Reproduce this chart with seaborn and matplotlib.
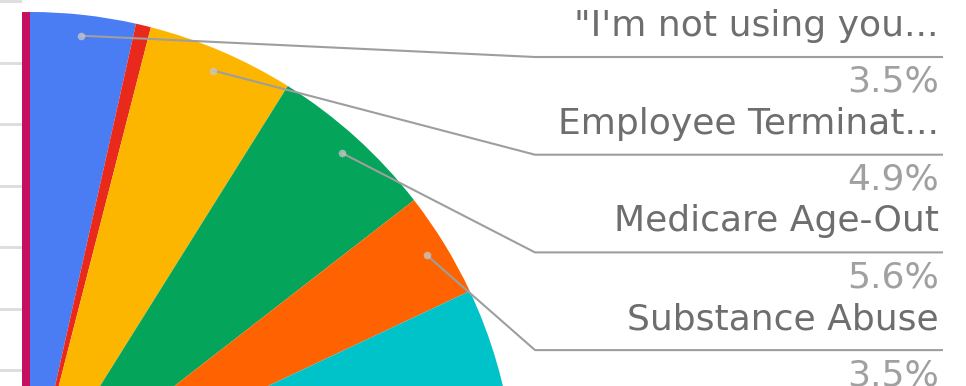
import numpy as np
import matplotlib
matplotlib.use("Agg")
import matplotlib.pyplot as plt
import seaborn as sns

# ---- data (percent of whole pie; slices beyond the visible crop are estimates) ----
categories = ['"I\'m not using you...', '', 'Employee Terminat...', 'Medicare Age-Out',
              'Substance Abuse', '', '', '', '', '']
values = [3.5, 0.5, 4.9, 5.6, 3.5, 10.0, 20.0, 18.0, 28.0, 6.0]
slice_colors = ['#4a7cf3', '#e8291c', '#fdb600', '#04a45a', '#ff6200',
                '#00c3c9', '#7baaf7', '#9ccc65', '#ab47bc', '#c4105e']

sns.set_theme(style="white")
plt.rcParams['font.family'] = ['DejaVu Sans']

W, H = 966, 386
fig = plt.figure(figsize=(W / 100, H / 100), dpi=100)
fig.patch.set_facecolor('white')

# left strip: spreadsheet grid lines peeking out
axg = fig.add_axes([0, 0, 22 / W, 1])
axg.set_xlim(0, 1)
axg.set_ylim(0, H)
axg.axis('off')
for k in range(7):
    axg.axhline(H - (1 + 61.5 * k), color='#dcdcdc', lw=2.0)

# pie axes in pixel-like data coordinates (y up)
ax = fig.add_axes([22 / W, 0, (W - 22) / W, 1])
cx, cy, R = 30.0, H - 498.0, 486.0
palette = sns.color_palette(slice_colors)
wedges, _ = ax.pie(values, colors=palette, startangle=90, counterclock=False,
                   center=(cx, cy), radius=R, wedgeprops=dict(linewidth=0),
                   frame=True)
for w in wedges:
    w.set_clip_on(True)
    w.set_clip_path(ax.patch)
ax.set_xlim(22, W)
ax.set_ylim(0, H)
ax.set_aspect('auto')
ax.axis('off')

total = float(np.sum(values))
cum = np.cumsum([0.0] + list(values))
slot_r, slot_l = 0, 0
for i, (lab, v) in enumerate(zip(categories, values)):
    if not lab:
        continue
    mid = np.deg2rad(360.0 * (cum[i] + v / 2) / total)
    dx, dy = cx + 0.957 * R * np.sin(mid), cy + 0.957 * R * np.cos(mid)
    right = np.sin(mid) >= 0
    slot = slot_r if right else slot_l
    yu = H - (57 + 97.7 * slot)
    if right:
        slot_r += 1
        ex, xend, ha = 535, 943, 'right'
        xt = 939
    else:
        slot_l += 1
        ex, xend, ha = 2 * cx - 535, 2 * cx - 943, 'left'
        xt = 2 * cx - 939
    ax.plot([dx, ex, xend], [dy, yu, yu], color='#9e9e9e', lw=1.5,
            solid_capstyle='butt', zorder=3, clip_on=True)
    ax.plot([dx], [dy], 'o', ms=5.5, color='#c8c8c8', alpha=0.75,
            markeredgewidth=0, zorder=4)
    ax.text(xt, yu + 21, lab, ha=ha, va='baseline', fontsize=26,
            color='#6e6e6e', zorder=5)
    ax.text(xt, yu - 35, f"{100 * v / total:.1f}%", ha=ha, va='baseline',
            fontsize=26, color='#a0a0a0', zorder=5)

fig.savefig('out.png', dpi=100, facecolor='white')
